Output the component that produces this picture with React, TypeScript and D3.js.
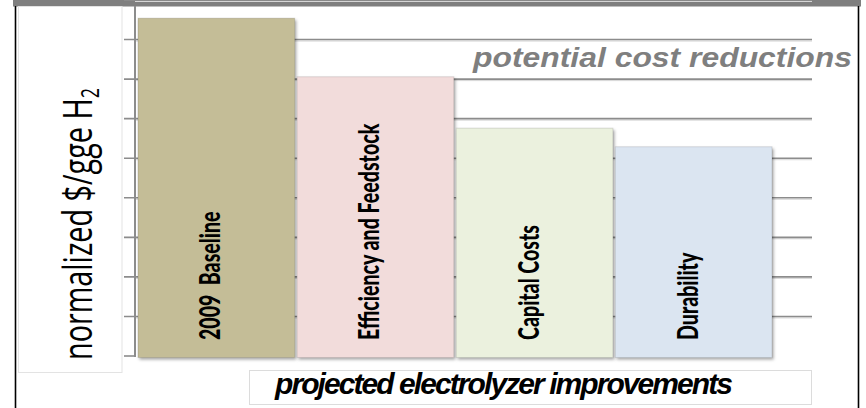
import React from "react";
import * as d3 from "d3";

// Electrolyzer cost waterfall: normalized $/gge H2 after each improvement step
const categories = ["2009  Baseline", "Efficiency and Feedstock", "Capital Costs", "Durability"];
const costValues = [8.54, 7.06, 5.76, 5.29];
const yDomainMax = 9;

const barFills = ["#c4bd97", "#f2dcdb", "#ebf1de", "#dbe5f1"];

const W = 866;
const H = 408;

export default function App() {
  const y = d3.scaleLinear().domain([0, yDomainMax]).range([356, 0]);
  const x = d3
    .scaleBand<string>()
    .domain(categories)
    .range([138, 772])
    .paddingInner(0.015)
    .paddingOuter(0);

  const gridTicks = y.ticks(yDomainMax);
  const axisX = 135;
  const gridRight = 812;

  return (
    <svg
      width={W}
      height={H}
      viewBox={`0 0 ${W} ${H}`}
      style={{ position: "absolute", left: 0, top: 0, display: "block", background: "#fff" }}
    >
      <defs>
        <filter id="barShadow" x="-10%" y="-10%" width="130%" height="130%">
          <feDropShadow dx="1.5" dy="2" stdDeviation="1.5" floodColor="#000" floodOpacity="0.35" />
        </filter>
      </defs>

      {/* frame */}
      <rect x={0} y={0} width={W} height={H} fill="#ffffff" />
      <rect x={13} y={0} width={848} height={6.5} fill="#7f7f7f" />
      <line x1={15.5} x2={15.5} y1={6} y2={H} stroke="#000" strokeWidth={1.6} />
      <line x1={858.5} x2={858.5} y1={6} y2={H} stroke="#000" strokeWidth={1.6} />

      {/* y-axis title box */}
      <rect x={18.5} y={6.5} width={103.5} height={366} fill="#fff" stroke="#e3e3e3" strokeWidth={1} />
      <text
        transform="translate(92,360) rotate(-90)"
        fontFamily="'Open Sans', 'Noto Sans', sans-serif"
        fontSize={40}
        fill="#000"
        textLength={272}
        lengthAdjust="spacingAndGlyphs"
      >
        normalized $/gge H
        <tspan fontSize={25} dy={7}>2</tspan>
      </text>

      {/* gridlines */}
      {gridTicks.filter((t) => t > 0).map((t) => (
        <g key={t}>
          <line x1={axisX} x2={gridRight} y1={y(t) + 1.5} y2={y(t) + 1.5} stroke="#d6d6d6" strokeWidth={1} />
          <line x1={axisX - 11} x2={gridRight} y1={y(t)} y2={y(t)} stroke="#8c8c8c" strokeWidth={1.6} />
        </g>
      ))}
      <line x1={axisX - 11} x2={axisX} y1={y(0)} y2={y(0)} stroke="#8c8c8c" strokeWidth={1.6} />

      {/* y axis */}
      <line x1={axisX} x2={axisX} y1={6} y2={y(0) + 1} stroke="#8c8c8c" strokeWidth={2} />

      {/* bars */}
      {categories.map((c, i) => (
        <rect
          key={c}
          x={x(c)}
          y={y(costValues[i])}
          width={x.bandwidth()}
          height={y(0) + 1.5 - y(costValues[i])}
          fill={barFills[i]}
          stroke="rgba(0,0,0,0.12)"
          strokeWidth={1}
          filter="url(#barShadow)"
        />
      ))}

      {/* bar labels */}
      {categories.map((c) => (
        <text
          key={c + "-label"}
          transform={`translate(${(x(c) ?? 0) + x.bandwidth() / 2 + 4},340) rotate(-90) scale(0.7,1)`}
          fontFamily="Lato, 'Open Sans', sans-serif"
          fontWeight={900}
          fontSize={28}
          fill="#000"
          style={{ whiteSpace: "pre" }}
        >
          {c}
        </text>
      ))}

      {/* annotation */}
      <text
        x={852}
        y={67}
        textAnchor="end"
        fontFamily="'Liberation Sans', Arial, sans-serif"
        fontWeight={700}
        fontStyle="italic"
        fontSize={27}
        fill="#7f7f7f"
        textLength={379}
        lengthAdjust="spacingAndGlyphs"
      >
        potential cost reductions
      </text>

      {/* x-axis title box */}
      <rect x={249.5} y={370.5} width={562} height={34} fill="#fff" stroke="#dcdcdc" strokeWidth={1} />
      <text
        x={275}
        y={394}
        fontFamily="'Liberation Sans', Arial, sans-serif"
        fontWeight={700}
        fontStyle="italic"
        fontSize={30}
        fill="#000"
        textLength={458}
        lengthAdjust="spacing"
      >
        projected electrolyzer improvements
      </text>
    </svg>
  );
}
